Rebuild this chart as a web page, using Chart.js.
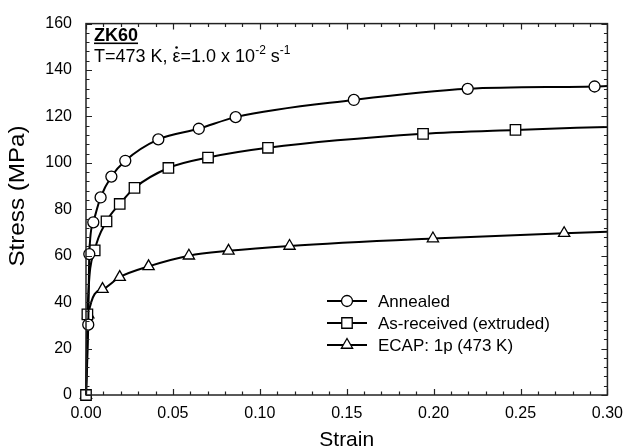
<!DOCTYPE html>
<html>
<head>
<meta charset="utf-8">
<script src="https://cdn.jsdelivr.net/npm/chart.js@4"></script>
<style>
html,body{margin:0;padding:0;background:#fff;}
#wrap{width:632px;height:448px;position:relative;}
</style>
</head>
<body>
<div id="wrap"><canvas id="c" width="632" height="448"></canvas></div>
<script>
// ---- data ----
const annealedStrain = [0, 0.0013, 0.0019, 0.0042, 0.0084, 0.0146, 0.0226, 0.0416, 0.0649, 0.0861, 0.1541, 0.2196, 0.2926, 0.30];
const annealedStress = [0, 30.3, 60.7, 74.4, 85.1, 94.1, 100.9, 110.1, 114.7, 119.7, 127.1, 131.9, 132.9, 133.1];
const asReceivedStrain = [0, 0.0008, 0.0050, 0.0118, 0.0194, 0.0279, 0.0474, 0.0702, 0.1047, 0.1939, 0.2471, 0.30];
const asReceivedStress = [0, 34.7, 62.3, 74.8, 82.3, 89.2, 97.8, 102.3, 106.5, 112.5, 114.2, 115.5];
const ecapStrain = [0, 0.0013, 0.0095, 0.0194, 0.0360, 0.0592, 0.0820, 0.1171, 0.1996, 0.2751, 0.30];
const ecapStress = [0, 34.6, 45.6, 50.8, 55.4, 60.0, 62.1, 64.2, 67.4, 69.7, 70.3];
const seriesLabels = ['Annealed', 'As-received (extruded)', 'ECAP: 1p (473 K)'];
const xTicks = [0, 0.05, 0.10, 0.15, 0.20, 0.25, 0.30];
const yTicks = [0, 20, 40, 60, 80, 100, 120, 140, 160];

const FONT = '"Liberation Sans", Arial, Helvetica, sans-serif';

function pts(xs, ys){ return xs.map((x,i)=>({x:x, y:ys[i]})); }

// points with no marker: the unmarked line ends (and annealed origin)
function radiusFn(r, hideFirst){
  return function(ctx){
    const n = ctx.dataset.data.length;
    if (ctx.dataIndex === n-1) return 0;
    if (hideFirst && ctx.dataIndex === 0) return 0;
    return r;
  };
}

const styles = [
  {shape:'circle', r:5.5},
  {shape:'rect', r:7.4},
  {shape:'triangle', r:6.5}
];

function ds(label, data, st, hideFirst){
  return {
    label: label,
    data: data,
    showLine: true,
    borderColor: '#000',
    borderWidth: 2,
    backgroundColor: '#fff',
    pointStyle: st.shape,
    pointRadius: radiusFn(st.r, hideFirst),
    pointHoverRadius: radiusFn(st.r, hideFirst),
    pointBackgroundColor: '#fff',
    pointBorderColor: '#000',
    pointBorderWidth: 1.3,
    cubicInterpolationMode: 'monotone',
    tension: 0.4,
    clip: false,
    fill: false
  };
}

const frameTicks = {
  id: 'frameTicks',
  afterDatasetsDraw(chart){
    const {ctx, chartArea:a, scales} = chart;
    const xs = scales.x, ys = scales.y;
    ctx.save();
    ctx.strokeStyle = '#222';
    ctx.lineWidth = 1.2;
    for (let k=0; k<=30; k++){
      const v = k/100;
      const px = Math.round(xs.getPixelForValue(v))+0.5;
      const len = (k%5===0) ? 6 : 3.5;
      ctx.beginPath();
      ctx.moveTo(px, a.bottom); ctx.lineTo(px, a.bottom-len);
      ctx.moveTo(px, a.top); ctx.lineTo(px, a.top+len);
      ctx.stroke();
    }
    for (let v=0; v<=160; v+=4){
      const py = Math.round(ys.getPixelForValue(v))+0.5;
      const len = (v%20===0) ? 6 : 3.5;
      ctx.beginPath();
      ctx.moveTo(a.left, py); ctx.lineTo(a.left+len, py);
      ctx.moveTo(a.right, py); ctx.lineTo(a.right-len, py);
      ctx.stroke();
    }
    ctx.lineWidth = 1.5;
    ctx.strokeStyle = '#222';
    ctx.strokeRect(a.left, a.top, a.right-a.left, a.bottom-a.top);
    ctx.restore();
  },
  afterDraw(chart){
    const {ctx, chartArea:a} = chart;
    ctx.save();
    ctx.fillStyle = '#000';
    // axis titles
    ctx.font = '21px ' + FONT;
    ctx.textAlign = 'center';
    ctx.textBaseline = 'alphabetic';
    ctx.fillText('Strain', (a.left+a.right)/2, 446);
    ctx.save();
    ctx.translate(24, 196);
    ctx.rotate(-Math.PI/2);
    ctx.scale(1.1, 1);
    ctx.font = '22px ' + FONT;
    ctx.fillText('Stress (MPa)', 0, 0);
    ctx.restore();

    // annotation
    ctx.textAlign = 'left';
    ctx.font = 'bold 18px ' + FONT;
    ctx.fillText('ZK60', 94, 41);
    const w = ctx.measureText('ZK60').width;
    ctx.fillRect(94, 42.5, w, 1.6);

    let x = 94; const by = 62;
    const put = (t, f, dy) => { ctx.font = f; ctx.fillText(t, x, by+(dy||0)); x += ctx.measureText(t).width; };
    put('T=473 K, ', '18px '+FONT);
    const ex = x;
    put('\u03B5', '18px '+FONT);
    const ew = x - ex;
    ctx.beginPath(); ctx.arc(ex+ew/2, by-14.5, 1.3, 0, Math.PI*2); ctx.fill();
    put('=1.0 x 10', '18px '+FONT);
    put('-2', '12px '+FONT, -8);
    put(' s', '18px '+FONT);
    put('-1', '12px '+FONT, -8);

    // legend
    const rows = [301, 323, 345];
    rows.forEach((ry, i) => {
      ctx.strokeStyle = '#000';
      ctx.lineWidth = 2;
      ctx.beginPath(); ctx.moveTo(327, ry); ctx.lineTo(367, ry); ctx.stroke();
      ctx.lineWidth = 1.3;
      ctx.fillStyle = '#fff';
      Chart.helpers.drawPoint(ctx, {pointStyle: styles[i].shape, radius: styles[i].r, rotation: 0, borderWidth: 1.3}, 347, ry);
      ctx.fillStyle = '#000';
      ctx.font = '17px ' + FONT;
      ctx.textBaseline = 'middle';
      ctx.fillText(seriesLabels[i], 378, ry+1);
    });
    ctx.restore();
  }
};

new Chart(document.getElementById('c'), {
  type: 'scatter',
  data: {
    datasets: [
      ds(seriesLabels[0], pts(annealedStrain, annealedStress), styles[0], true),
      ds(seriesLabels[1], pts(asReceivedStrain, asReceivedStress), styles[1], false),
      ds(seriesLabels[2], pts(ecapStrain, ecapStress), styles[2], false)
    ]
  },
  options: {
    responsive: false,
    animation: false,
    devicePixelRatio: 1,
    layout: {padding: {left: 0, right: 19, top: 17, bottom: 0}},
    plugins: {legend: {display: false}, tooltip: {enabled: false}},
    scales: {
      x: {
        type: 'linear', min: 0, max: 0.30,
        afterFit(s){ s.height = 53; },
        afterBuildTicks(s){ s.ticks = xTicks.map(v=>({value:v})); },
        grid: {display: false, drawTicks: false},
        border: {display: false},
        ticks: {color:'#000', font:{family: FONT, size:16}, padding: 9, maxRotation:0,
          callback: v => Number(v).toFixed(2)}
      },
      y: {
        type: 'linear', min: 0, max: 160,
        afterFit(s){ s.width = 86; },
        afterBuildTicks(s){ s.ticks = yTicks.map(v=>({value:v})); },
        grid: {display: false, drawTicks: false},
        border: {display: false},
        ticks: {color:'#000', font:{family: FONT, size:16}, padding: 14,
          callback: v => String(v)}
      }
    }
  },
  plugins: [frameTicks]
});
</script>
</body>
</html>
